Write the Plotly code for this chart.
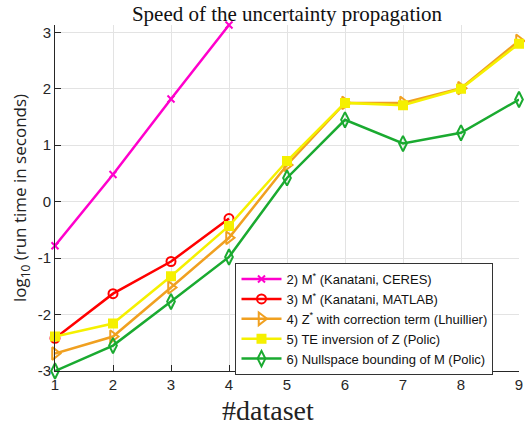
import plotly.graph_objects as go

datasets = [1, 2, 3, 4, 5, 6, 7, 8, 9]
y_ticks = [-3, -2, -1, 0, 1, 2, 3]
y_tick_text = ["-3", "-2", "-1", "0", "1", "2", "3"]

ceres = [-0.78, 0.48, 1.82, 3.13]
matlab = [-2.42, -1.63, -1.06, -0.30]
lhuillier = [-2.69, -2.39, -1.52, -0.64, 0.65, 1.75, 1.75, 2.01, 2.85]
te_inversion = [-2.39, -2.16, -1.32, -0.43, 0.72, 1.75, 1.71, 2.0, 2.80]
nullspace = [-3.0, -2.55, -1.77, -0.98, 0.42, 1.45, 1.03, 1.22, 1.81]

names = [
    "2) M<sup>*</sup> (Kanatani, CERES)",
    "3) M<sup>*</sup> (Kanatani, MATLAB)",
    "4) Z<sup>*</sup> with correction term (Lhuillier)",
    "5) TE inversion of Z (Polic)",
    "6) Nullspace bounding of M (Polic)",
]

series = [
    (ceres, "#ff00cc", "x-thin-open", 7),
    (matlab, "#ff0000", "circle-open", 9),
    (lhuillier, "#f0a020", "triangle-right-open", 11),
    (te_inversion, "#f5f000", "square", 8),
    (nullspace, "#1aaa30", "diamond-tall-open", 11),
]

fig = go.Figure()
for name, (vals, color, sym, size) in zip(names, series):
    fig.add_trace(go.Scatter(
        x=datasets[:len(vals)], y=vals, name=name, mode="lines+markers",
        line=dict(color=color, width=2.5),
        marker=dict(symbol=sym, size=size, color=color,
                    line=dict(color=color, width=2)),
        cliponaxis=False,
    ))

axis_common = dict(
    showgrid=True, gridcolor="#e3e3e3", gridwidth=1,
    showline=True, linecolor="#262626", linewidth=1,
    ticks="inside", ticklen=6, tickcolor="#262626",
    tickfont=dict(family="Liberation Sans, Arial", size=15, color="#262626"),
    ticklabeloverflow="allow",
    zeroline=False, mirror=False,
)

fig.update_xaxes(range=[1, 9], tickvals=datasets, **axis_common)
fig.update_yaxes(range=[-3, 3.13], tickvals=y_ticks, ticktext=y_tick_text, **axis_common,
                 title=dict(text="log<sub>10</sub> (run time in seconds)",
                            font=dict(family="Open Sans, Liberation Sans", size=17, color="#222"),
                            standoff=6))

# x-axis label placed slightly left of the plot centre
fig.add_annotation(text="#dataset", xref="paper", yref="paper",
                   x=0.459, y=-0.115, xanchor="center", yanchor="middle",
                   showarrow=False,
                   font=dict(family="Liberation Serif, Times New Roman", size=28, color="#222"))

fig.update_layout(
    width=525, height=429,
    margin=dict(l=55, r=2, t=25, b=58),
    paper_bgcolor="white", plot_bgcolor="white",
    title=dict(text="Speed of the uncertainty propagation",
               font=dict(family="Liberation Serif, Times New Roman", size=21, color="#111"),
               x=0.5, xref="paper", xanchor="center",
               y=1 - 14 / 429, yref="container", yanchor="middle"),
    legend=dict(x=0.389, y=0.312, xanchor="left", yanchor="top",
                bgcolor="white", bordercolor="#333", borderwidth=1,
                font=dict(family="Liberation Sans, Arial", size=13, color="#111"),
                tracegroupgap=0, itemwidth=40),
    showlegend=True,
)

fig.write_html("out.html")
